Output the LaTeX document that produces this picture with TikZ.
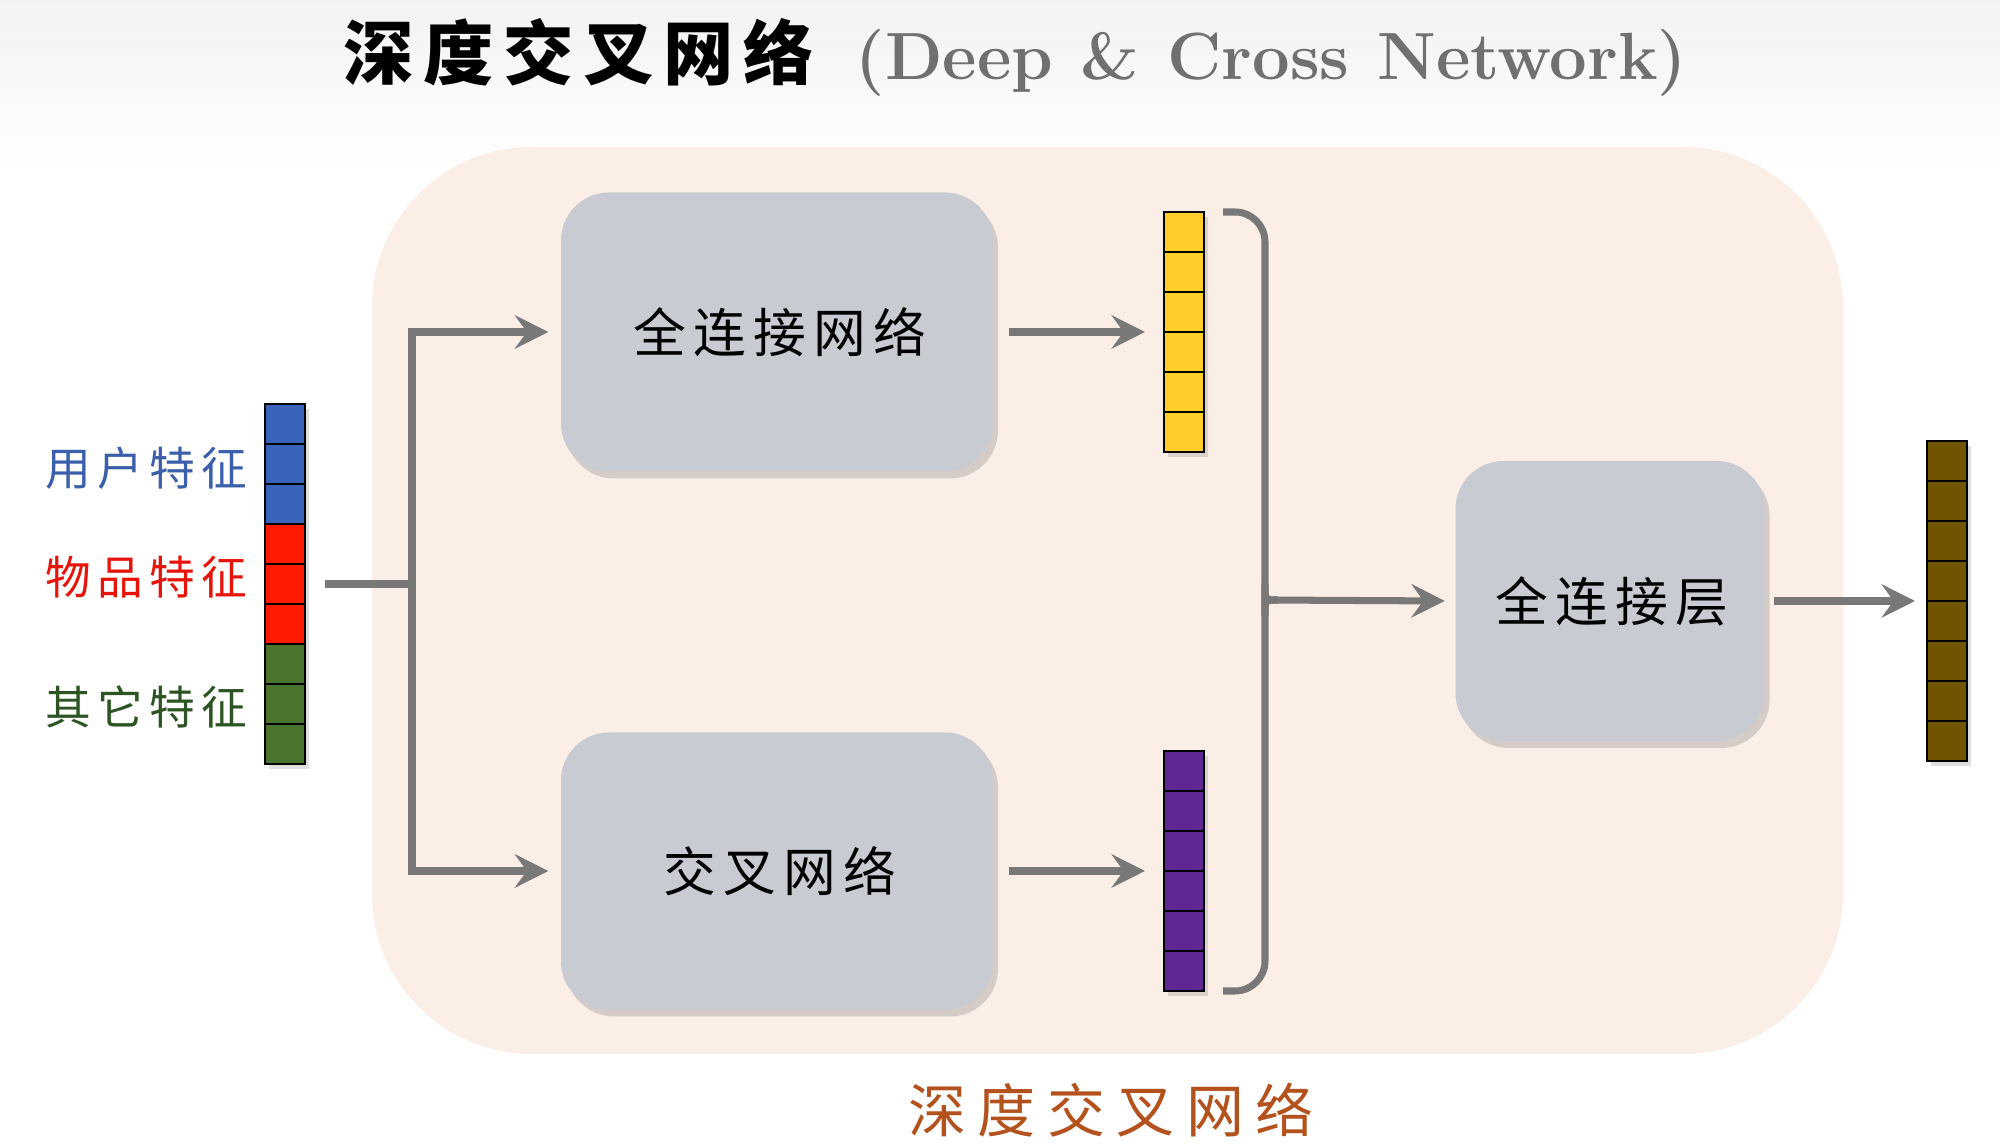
\documentclass[tikz,border=0pt]{standalone}
\usepackage{fontspec}
\newfontfamily\cjk[LetterSpace=14]{Noto Sans CJK SC}
\newfontfamily\cjkwide[LetterSpace=20]{Noto Sans CJK SC}
\usetikzlibrary{arrows.meta,shadows}
\definecolor{peach}{RGB}{251,238,230}
\definecolor{netgray}{RGB}{200,203,210}
\definecolor{linegray}{RGB}{120,120,120}
\definecolor{titlegray}{RGB}{112,112,112}
\definecolor{captionbrown}{RGB}{180,82,30}
\definecolor{userblue}{RGB}{59,95,170}
\definecolor{itemred}{RGB}{230,20,10}
\definecolor{othergreen}{RGB}{45,85,35}
\definecolor{cellblue}{RGB}{58,100,188}
\definecolor{cellred}{RGB}{255,26,0}
\definecolor{cellgreen}{RGB}{75,116,47}
\definecolor{cellyellow}{RGB}{255,204,41}
\definecolor{cellpurple}{RGB}{96,38,146}
\definecolor{cellbrown}{RGB}{112,84,0}
\tikzset{
  cell/.style={draw=black, line width=0.8pt, minimum width=4mm, minimum height=4mm, inner sep=0pt, outer sep=0pt},
  vec/.style={draw=black, line width=0.8pt, minimum width=4mm, inner sep=0pt, outer sep=0pt,
    drop shadow={shadow xshift=0.4mm, shadow yshift=-0.5mm, opacity=0.25}},
  net/.style={fill=netgray, rounded corners=4.8mm, inner sep=0pt,
    drop shadow={shadow xshift=0.5mm, shadow yshift=-0.7mm, opacity=0.3}},
  bar/.style={draw=linegray, line width=2pt},
  link/.style={bar, -{Stealth[length=9.5pt, width=9.5pt, inset=3.4pt]}},
  feat/.style={anchor=east, inner sep=0pt, font=\cjk\fontsize{13}{15}\selectfont},
  netlabel/.style={font=\cjk\fontsize{15}{18}\selectfont},
}
\begin{document}
\begin{tikzpicture}[x=0.1mm, y=-0.1mm]
  \useasboundingbox (0,0) rectangle (2000,1146);
  \shade[top color=black!5, bottom color=white] (0,0) rectangle (2000,170);
  \fill[peach, rounded corners=16mm] (372,147) rectangle (1843,1054);

  % title and caption
  \node[anchor=base, inner sep=0pt] (title) at (1015,80)
    {{\cjk\bfseries\fontsize{20}{24}\selectfont 深度交叉网络}\hspace{4.2mm}{\color{titlegray}\bfseries\fontsize{19}{23}\selectfont (Deep\hspace{2.8mm}\&\hspace{2.8mm}Cross\hspace{2.8mm}Network)}};
  \node[text=captionbrown, font=\cjkwide\fontsize{16.5}{20}\selectfont] (caption) at (1111,1110) {深度交叉网络};

  % input vector
  \node[vec, minimum height=36mm] (feat) at (285,584) {};
  \foreach \i/\c in {0/cellblue,1/cellblue,2/cellblue,3/cellred,4/cellred,5/cellred,6/cellgreen,7/cellgreen,8/cellgreen}
    \node[cell, fill=\c] (feat\i) at (285,424+40*\i) {};
  \node[feat, text=userblue] (user) at (248,468) {用户特征};
  \node[feat, text=itemred] (item) at (248,577) {物品特征};
  \node[feat, text=othergreen] (other) at (248,707) {其它特征};

  % two towers
  \node[net, minimum width=43.2mm, minimum height=27.9mm] (dnn) at (777,332) {};
  \node[netlabel] (dnnlabel) at (780,332) {全连接网络};
  \node[net, minimum width=43.2mm, minimum height=27.7mm] (cross) at (777,871) {};
  \node[netlabel] (crosslabel) at (780,871) {交叉网络};

  \node[vec, minimum height=24mm] (dnnout) at (1184,332) {};
  \foreach \i in {0,...,5}
    \node[cell, fill=cellyellow] (dnnout\i) at (1184,232+40*\i) {};
  \node[vec, minimum height=24mm] (crossout) at (1184,871) {};
  \foreach \i in {0,...,5}
    \node[cell, fill=cellpurple] (crossout\i) at (1184,771+40*\i) {};

  % fully connected layer and output
  \node[net, minimum width=30.9mm, minimum height=28mm] (fc) at (1610,601) {};
  \node[netlabel] (fclabel) at (1612,601) {全连接层};
  \node[vec, minimum height=32mm] (out) at (1947,601) {};
  \foreach \i in {0,...,7}
    \node[cell, fill=cellbrown] (out\i) at (1947,461+40*\i) {};

  % connectors
  \coordinate (split) at (412,584);
  \coordinate (join) at (1265,600);
  \draw[bar] ([xshift=2mm]feat.east) -- (split);
  \draw[link] (split) |- ([xshift=-1.2mm]dnn.west);
  \draw[link] (split) |- ([xshift=-1.2mm]cross.west);
  \draw[link] ([xshift=1.5mm]dnn.east) -- ([xshift=-1.9mm]dnnout.west);
  \draw[link] ([xshift=1.5mm]cross.east) -- ([xshift=-1.9mm]crossout.west);
  \draw[bar, rounded corners=3mm] ([xshift=1.9mm]dnnout.north east) -- (1265,212) -- (1265,586) .. controls (1265,600) .. (1278,600);
  \draw[bar, rounded corners=3mm] ([xshift=1.9mm]crossout.south east) -- (1265,991) -- (1265,614) .. controls (1265,600) .. (1278,600);
  \draw[link] (join) -- ([xshift=-1mm]fc.west);
  \draw[link] ([xshift=0.9mm]fc.east) -- ([xshift=-1.2mm]out.west);
\end{tikzpicture}
\end{document}
